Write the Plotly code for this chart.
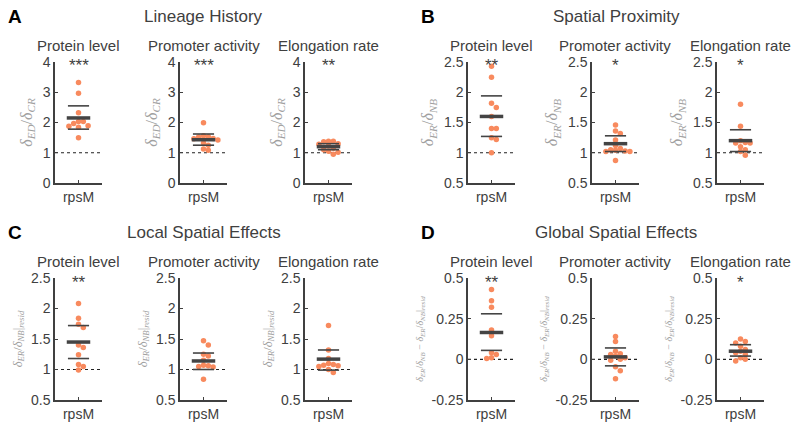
import plotly.graph_objects as go

# ---- data --------------------------------------------------------------
gene = "rpsM"
features = ["Protein level", "Promoter activity", "Elongation rate"]

# A  Lineage History  (delta_ED / delta_CR)
lineage_protein = [3.32, 2.97, 2.32, 2.03, 2.03, 1.97, 1.89, 1.88, 1.84, 1.50]
lineage_promoter = [1.99, 1.56, 1.53, 1.52, 1.47, 1.46, 1.42, 1.32, 1.25, 1.12, 1.08]
lineage_elongation = [1.38, 1.38, 1.36, 1.30, 1.28, 1.22, 1.15, 1.10, 1.05, 1.02, 0.95]
lineage_mean = [2.15, 1.43, 1.20]
lineage_upper = [2.55, 1.62, 1.30]
lineage_lower = [1.78, 1.25, 1.10]
lineage_stars = ["***", "***", "**"]

# B  Spatial Proximity  (delta_ER / delta_NB)
proximity_protein = [2.43, 2.25, 1.82, 1.75, 1.60, 1.40, 1.40, 1.25, 1.22, 1.00]
proximity_promoter = [1.46, 1.36, 1.32, 1.21, 1.12, 1.07, 1.05, 1.04, 1.03, 1.02, 1.02, 0.87]
proximity_elongation = [1.80, 1.44, 1.20, 1.17, 1.16, 1.16, 1.10, 1.05, 1.02, 0.96]
proximity_mean = [1.60, 1.15, 1.20]
proximity_upper = [1.94, 1.28, 1.38]
proximity_lower = [1.27, 1.02, 1.02]
proximity_stars = ["**", "*", "*"]

# C  Local Spatial Effects  (delta_ER / delta_NB | resid)
local_protein = [2.08, 1.84, 1.74, 1.69, 1.40, 1.36, 1.24, 1.08, 1.05, 0.99]
local_promoter = [1.47, 1.40, 1.25, 1.22, 1.15, 1.07, 1.06, 1.05, 1.04, 0.84]
local_elongation = [1.72, 1.32, 1.18, 1.10, 1.08, 1.07, 1.06, 1.05, 1.00, 0.95]
local_mean = [1.45, 1.14, 1.17]
local_upper = [1.72, 1.27, 1.32]
local_lower = [1.18, 1.00, 0.99]
local_stars = ["**", "", ""]

# D  Global Spatial Effects  (delta_ER/delta_NB - delta_ER/delta_NB | resid)
global_protein = [0.43, 0.36, 0.32, 0.18, 0.145, 0.04, 0.03, 0.01, 0.005]
global_promoter = [0.14, 0.11, 0.05, 0.035, 0.03, 0.02, 0.01, 0.0, -0.005, -0.045, -0.07, -0.12]
global_elongation = [0.125, 0.11, 0.10, 0.08, 0.06, 0.05, 0.04, 0.03, 0.01, 0.0, -0.01]
global_mean = [0.165, 0.015, 0.05]
global_upper = [0.28, 0.07, 0.09]
global_lower = [0.055, -0.04, 0.02]
global_stars = ["**", "", "*"]

# ---- styling ----------------------------------------------------------
W, H = 800, 427
TXT = "#404040"
DOT = "#F88A5E"
FONT = "Liberation Sans, Arial, sans-serif"
SERIF = "Liberation Serif, DejaVu Serif, serif"
PLOT_W = 47
DOT_D = 4.8

panels = [
    dict(letter="A", title="Lineage History",
         series=[lineage_protein, lineage_promoter, lineage_elongation],
         mean=lineage_mean, upper=lineage_upper, lower=lineage_lower, stars=lineage_stars,
         yrange=[0, 4], ticks=[0, 1, 2, 3, 4], ref=1,
         ylabel="<i>δ<sub>ED</sub></i>/<i>δ<sub>CR</sub></i>", ylsize=16,
         left=[55, 180, 305], top=62, bottom=183, head=16),
    dict(letter="B", title="Spatial Proximity",
         series=[proximity_protein, proximity_promoter, proximity_elongation],
         mean=proximity_mean, upper=proximity_upper, lower=proximity_lower, stars=proximity_stars,
         yrange=[0.5, 2.5], ticks=[0.5, 1, 1.5, 2, 2.5], ref=1,
         ylabel="<i>δ<sub>ER</sub></i>/<i>δ<sub>NB</sub></i>", ylsize=16,
         left=[468, 592, 717], top=62, bottom=183, head=16),
    dict(letter="C", title="Local Spatial Effects",
         series=[local_protein, local_promoter, local_elongation],
         mean=local_mean, upper=local_upper, lower=local_lower, stars=local_stars,
         yrange=[0.5, 2.5], ticks=[0.5, 1, 1.5, 2, 2.5], ref=1,
         ylabel="<i>δ<sub>ER</sub></i>/<i>δ<sub>NB</sub></i>|<sub><i>resid</i></sub>", ylsize=12.5,
         left=[55, 180, 305], top=278, bottom=400, head=232),
    dict(letter="D", title="Global Spatial Effects",
         series=[global_protein, global_promoter, global_elongation],
         mean=global_mean, upper=global_upper, lower=global_lower, stars=global_stars,
         yrange=[-0.25, 0.5], ticks=[-0.25, 0, 0.25, 0.5], ref=0,
         ylabel="<i>δ<sub>ER</sub></i>/<i>δ<sub>NB</sub></i> − <i>δ<sub>ER</sub></i>/<i>δ<sub>NB</sub></i>|<sub><i>resid</i></sub>",
         ylsize=10,
         left=[468, 592, 717], top=278, bottom=400, head=232),
]


def fmt(v):
    return f"{v:g}"


def swarm(vals, y_px, x_px):
    """Simple beeswarm: offsets around x=1 so dots of DOT_D px don't overlap."""
    placed = []
    xs = [1.0] * len(vals)
    cands = [0]
    for s in range(1, 10):
        cands += [s, -s]
    for i in sorted(range(len(vals)), key=lambda k: -vals[k]):
        yp = vals[i] * y_px
        for c in cands:
            xp = c * DOT_D
            if all((xp - a) ** 2 + (yp - b) ** 2 >= DOT_D ** 2 - 1e-9 for a, b in placed):
                break
        placed.append((xp, yp))
        xs[i] = 1 + xp / x_px
    return xs


def text(t, x, y, size, color=TXT, **kw):
    return dict(text=t, x=x, y=y, xref=kw.pop("xref", "paper"), yref=kw.pop("yref", "paper"),
                showarrow=False, xanchor="center", yanchor="middle",
                font=dict(size=size, color=color, family=FONT), **kw)


fig = go.Figure()
annotations = []
n = 0
for p in panels:
    y_px = (p["bottom"] - p["top"]) / (p["yrange"][1] - p["yrange"][0])
    x_px = PLOT_W / 2.0
    centre = (p["left"][0] + p["left"][2] + PLOT_W) / 2
    annotations.append(text(p["title"], centre / W, 1 - p["head"] / H, 17))
    annotations.append(text("<b>" + p["letter"] + "</b>", (p["left"][0] - 40) / W,
                            1 - p["head"] / H, 19, color="black"))
    for j in range(3):
        n += 1
        xa = "x" if n == 1 else f"x{n}"
        ya = "y" if n == 1 else f"y{n}"
        vals = p["series"][j]
        lo, hi = p["yrange"]

        # reference line
        fig.add_trace(go.Scatter(x=[0, 2], y=[p["ref"], p["ref"]], mode="lines",
                                 line=dict(color="#222222", width=1.2, dash="dot"),
                                 xaxis=xa, yaxis=ya, hoverinfo="skip"))
        # dots
        fig.add_trace(go.Scatter(x=swarm(vals, y_px, x_px), y=vals, mode="markers",
                                 marker=dict(color=DOT, size=5.5, line=dict(width=0)),
                                 xaxis=xa, yaxis=ya))
        # spread lines + mean
        for v, w, a, b in [(p["upper"][j], 1.6, 0.55, 1.45), (p["lower"][j], 1.6, 0.55, 1.45),
                           (p["mean"][j], 3.5, 0.5, 1.5)]:
            fig.add_trace(go.Scatter(x=[a, b], y=[v, v], mode="lines",
                                     line=dict(color="#444444", width=w),
                                     xaxis=xa, yaxis=ya, hoverinfo="skip"))

        x0 = p["left"][j] / W
        x1 = (p["left"][j] + PLOT_W) / W
        y0 = 1 - p["bottom"] / H
        y1 = 1 - p["top"] / H
        axis_common = dict(showline=True, linecolor=TXT, linewidth=1.5, ticks="inside",
                           ticklen=3, tickwidth=1, tickcolor=TXT, showgrid=False, zeroline=False,
                           automargin=False,
                           tickfont=dict(size=14, color=TXT, family=FONT), fixedrange=True)
        fig.layout["xaxis" if n == 1 else f"xaxis{n}"] = dict(
            domain=[x0, x1], anchor=ya, range=[0, 2], tickvals=[1], ticktext=[gene],
            **axis_common)
        fig.layout["yaxis" if n == 1 else f"yaxis{n}"] = dict(
            domain=[y0, y1], anchor=xa, range=[lo, hi], tickvals=p["ticks"],
            ticktext=[fmt(t) for t in p["ticks"]],
            title=dict(text=p["ylabel"], standoff=6,
                       font=dict(size=p["ylsize"], color="#a0a0a0", family=SERIF)),
            **axis_common)

        # subplot title and significance stars
        annotations.append(text(features[j], (x0 + x1) / 2, 1 - (p["top"] - 17) / H, 15))
        if p["stars"][j]:
            annotations.append(text(p["stars"][j], 1, hi, 17, xref=xa, yref=ya, yshift=-4))

fig.update_layout(
    width=W, height=H,
    margin=dict(l=0, r=0, t=0, b=0),
    paper_bgcolor="white", plot_bgcolor="white",
    showlegend=False,
    annotations=annotations,
)

# the page body has a default 8px margin; drop it so the figure fills the window
fig.write_html("out.html", config={"displayModeBar": False},
               post_script="document.body.style.margin='0';")
